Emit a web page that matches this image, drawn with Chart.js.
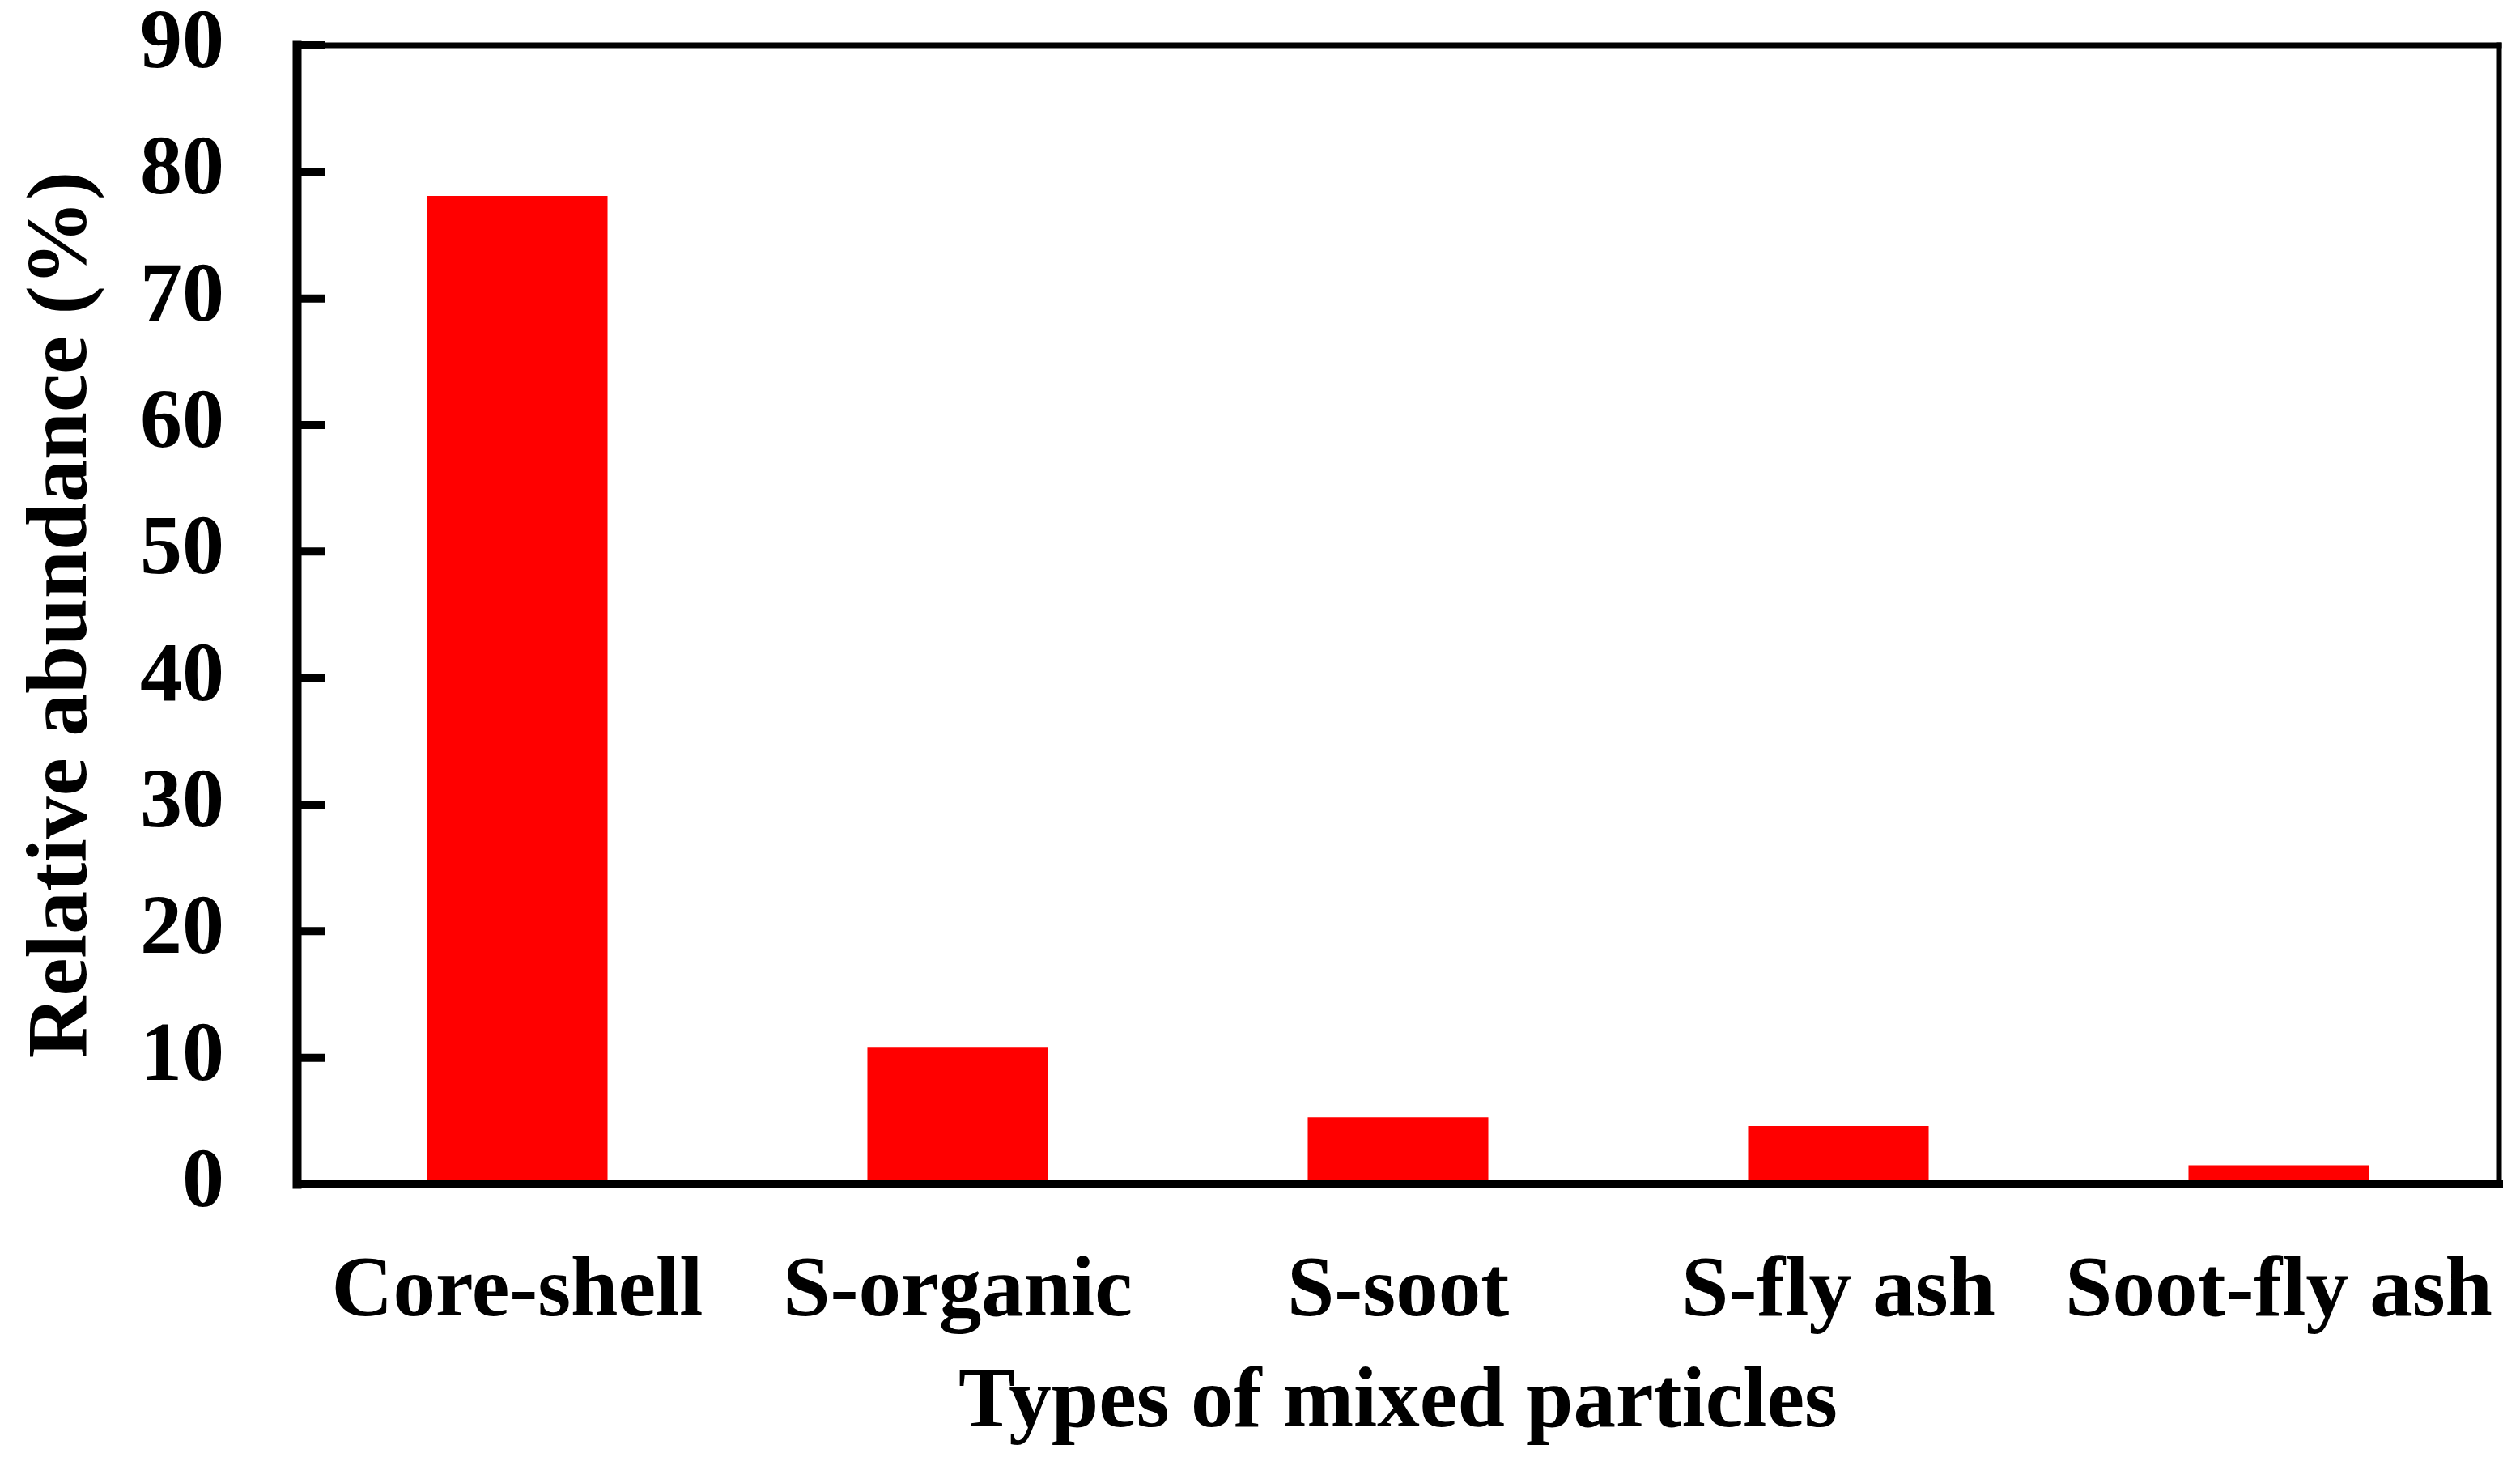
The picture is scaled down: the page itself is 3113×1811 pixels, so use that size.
<!DOCTYPE html>
<html><head><meta charset="utf-8">
<script src="https://cdn.jsdelivr.net/npm/chart.js@4/dist/chart.umd.min.js"></script>
<style>html,body{margin:0;padding:0;background:#fff}#wrap{width:3113px;height:1811px}</style>
</head><body><div id="wrap"><canvas id="c" width="3113" height="1811"></canvas></div>
<script>
const categories = ["Core-shell", "S-organic", "S-soot", "S-fly ash", "Soot-fly ash"];
const abundance = [78.1, 10.8, 5.3, 4.6, 1.5];
const yTicks = [0, 10, 20, 30, 40, 50, 60, 70, 80, 90];
const xTitle = "Types of mixed particles";
const yTitle = "Relative abundance (%)";

const FONT = "'Liberation Serif', 'Times New Roman', serif";

const framePlugin = {
  id: 'frame',
  afterDraw(chart) {
    const {ctx, chartArea: a, scales} = chart;
    ctx.save();
    ctx.strokeStyle = '#000';
    ctx.lineCap = 'square';
    ctx.lineWidth = 10;
    yTicks.forEach(v => {
      const y = scales.y.getPixelForValue(v);
      ctx.beginPath(); ctx.moveTo(a.left, y); ctx.lineTo(a.left + 30, y); ctx.stroke();
    });
    ctx.lineWidth = 7;
    ctx.beginPath(); ctx.moveTo(a.left, a.top); ctx.lineTo(a.right, a.top); ctx.stroke();
    ctx.beginPath(); ctx.moveTo(a.right, a.top); ctx.lineTo(a.right, a.bottom); ctx.stroke();
    ctx.lineWidth = 11;
    ctx.beginPath(); ctx.moveTo(a.left, a.top); ctx.lineTo(a.left, a.bottom); ctx.stroke();
    ctx.lineWidth = 10;
    ctx.beginPath(); ctx.moveTo(a.left, a.bottom); ctx.lineTo(a.right, a.bottom); ctx.stroke();
    ctx.restore();
  }
};

new Chart(document.getElementById('c'), {
  type: 'bar',
  data: {
    labels: categories,
    datasets: [{
      data: abundance,
      backgroundColor: '#FF0000',
      borderWidth: 0,
      barPercentage: 0.41,
      categoryPercentage: 1.0
    }]
  },
  options: {
    responsive: false,
    animation: false,
    devicePixelRatio: 1,
    layout: { padding: { top: 56, right: 26, left: 0, bottom: 0 } },
    plugins: { legend: { display: false }, tooltip: { enabled: false } },
    scales: {
      x: {
        grid: { display: false, drawTicks: false },
        border: { display: false },
        ticks: { color: '#000', padding: 72, maxRotation: 0, autoSkip: false, font: { family: FONT, weight: 'bold', size: 105 } },
        title: { display: true, text: xTitle, color: '#000', padding: { top: 0, bottom: 13 }, font: { family: FONT, weight: 'bold', size: 105 } },
        afterFit(s) { s.height = 348; s.paddingLeft = 0; s.paddingRight = 0; }
      },
      y: {
        min: 0, max: 90,
        afterBuildTicks(s) { s.ticks = yTicks.map(v => ({ value: v })); },
        grid: { display: false, drawTicks: false },
        border: { display: false },
        ticks: { color: '#000', padding: 90, font: { family: FONT, weight: 'bold', size: 104 } },
        title: { display: true, text: yTitle, color: '#000', padding: { top: 15, bottom: 0 }, font: { family: FONT, weight: 'bold', size: 106 } },
        afterFit(s) { s.width = 367; s.paddingTop = 0; s.paddingBottom = 0; }
      }
    }
  },
  plugins: [framePlugin]
});
</script></body></html>
